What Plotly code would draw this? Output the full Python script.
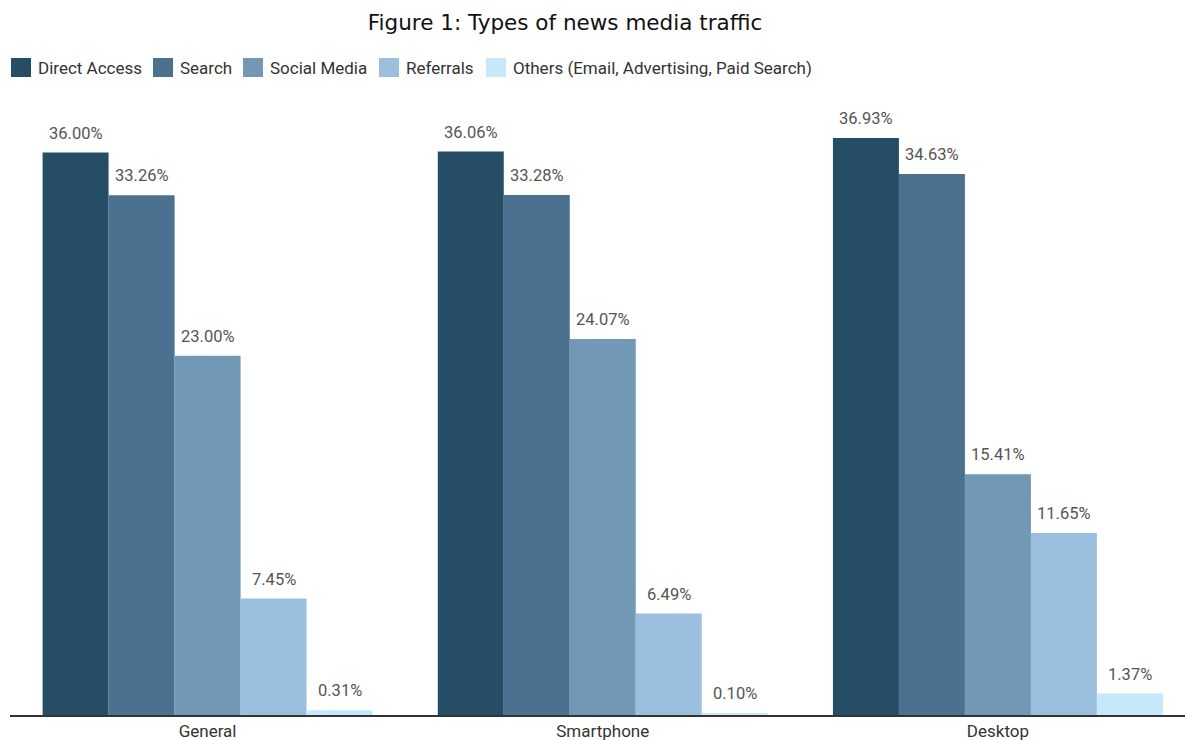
import plotly.graph_objects as go

categories = ["General", "Smartphone", "Desktop"]
series_names = ["Direct Access", "Search", "Social Media", "Referrals",
                "Others (Email, Advertising, Paid Search)"]
direct = [36.00, 36.06, 36.93]
search = [33.26, 33.28, 34.63]
social = [23.00, 24.07, 15.41]
referrals = [7.45, 6.49, 11.65]
others = [0.31, 0.10, 1.37]
colors = ["#264d66", "#4a7190", "#7199b6", "#9bc0df", "#c5e8fb"]

series = [direct, search, social, referrals, others]
xs = list(range(len(categories)))
bargap = 0.165
n = len(series)
bw = (1 - bargap) / n

W, H = 1185, 740
left, right_px = 10, 1185
top, bottom = 100, 715
pw = right_px - left
ph = bottom - top
px_per_unit = (715 - 138) / 36.93
ymax = ph / px_per_unit
xmax = 2.5 - (1195.5 - right_px) / 395


def px_x(p):
    return (p - left) / pw


def px_y(p):
    return (bottom - p) / ph


fig = go.Figure()
for name, vals, col in zip(series_names, series, colors):
    fig.add_trace(go.Bar(x=xs, y=vals, name=name, showlegend=False,
                         marker=dict(color=col, line=dict(width=0))))

annotations = []
for j, vals in enumerate(series):
    for i, v in enumerate(vals):
        annotations.append(dict(
            x=i + (j - (n - 1) / 2) * bw, y=v, xref="x", yref="y",
            text=f"{v:.2f}%", showarrow=False, yanchor="bottom", yshift=8,
            font=dict(family="Roboto", size=16.5, color="#555555")))

# custom legend (large square swatches like the reference)
legend_sq_x = [11, 153, 243, 379, 486]
shapes = []
for sx, name, col in zip(legend_sq_x, series_names, colors):
    shapes.append(dict(type="rect", xref="paper", yref="paper",
                       x0=px_x(sx), x1=px_x(sx + 20), y0=px_y(77), y1=px_y(58),
                       fillcolor=col, line=dict(width=0)))
    annotations.append(dict(x=px_x(sx + 25), y=px_y(67.5), xref="paper", yref="paper",
                            text=name, showarrow=False, xanchor="left", yanchor="middle",
                            font=dict(family="Roboto", size=17, color="#333333")))

fig.update_layout(
    width=W, height=H,
    margin=dict(l=left, r=W - right_px, t=top, b=H - bottom, autoexpand=False),
    paper_bgcolor="white", plot_bgcolor="white",
    barmode="group", bargap=bargap, bargroupgap=0,
    title=dict(text="Figure 1: Types of news media traffic", x=565 / W, xanchor="center",
               y=1 - 22 / H, yanchor="middle",
               font=dict(family="DejaVu Sans", size=21.5, color="#111111")),
    showlegend=False,
    annotations=annotations,
    shapes=shapes,
    xaxis=dict(tickmode="array", tickvals=xs, ticktext=categories, range=[-0.5, xmax],
               showline=True, linecolor="#333333", linewidth=2, ticks="", showgrid=False,
               automargin=False,
               tickfont=dict(family="Roboto", size=17, color="#333333"), zeroline=False),
    yaxis=dict(range=[0, ymax], visible=False, showgrid=False, zeroline=False),
)
fig.write_html("out.html")
